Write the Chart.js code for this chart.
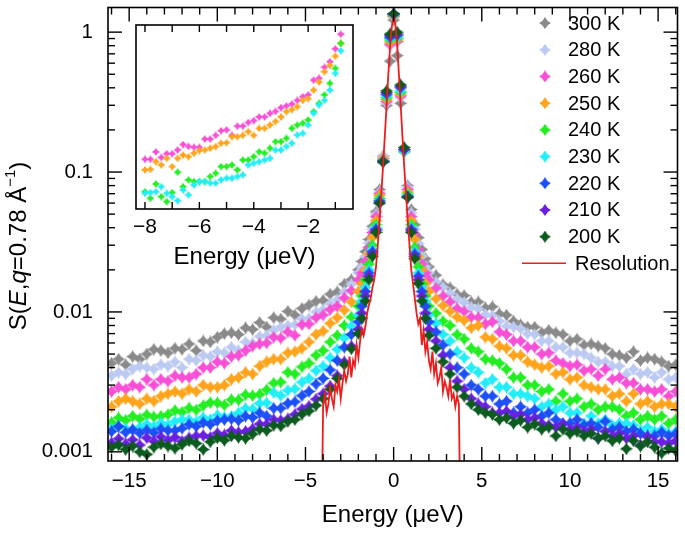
<!DOCTYPE html>
<html><head><meta charset="utf-8">
<script src="https://cdn.jsdelivr.net/npm/chart.js@4.4.1/dist/chart.umd.min.js"></script>
<style>
html,body{margin:0;padding:0;background:#fff;}
#wrap{position:relative;width:685px;height:535px;overflow:hidden;}
#main{position:absolute;left:0;top:0;}
#inset{position:absolute;left:126px;top:15px;}
</style></head>
<body><div id="wrap"><canvas id="main" width="685" height="535"></canvas><canvas id="inset" width="240" height="265"></canvas></div>
<script>
// ---------- DATA ----------
const energy = [-16.0,-15.6,-15.2,-14.8,-14.4,-14.0,-13.6,-13.2,-12.8,-12.4,-12.0,-11.6,-11.2,-10.8,-10.4,-10.0,-9.6,-9.2,-8.8,-8.4,-8.0,-7.6,-7.2,-6.8,-6.4,-6.0,-5.6,-5.2,-4.8,-4.4,-4.0,-3.6,-3.2,-2.8,-2.4,
-2.0,-1.8,-1.6,-1.4,-1.2,-1.0,-0.8,-0.6,-0.4,-0.2,0,0.2,0.4,0.6,0.8,1.0,1.2,1.4,1.6,1.8,2.0,
2.4,2.8,3.2,3.6,4.0,4.4,4.8,5.2,5.6,6.0,6.4,6.8,7.2,7.6,8.0,8.4,8.8,9.2,9.6,10.0,10.4,10.8,11.2,11.6,12.0,12.4,12.8,13.2,13.6,14.0,14.4,14.8,15.2,15.6,16.0];

const s300 = [0.0043,0.0046,0.0042,0.0048,0.0046,0.0050,0.0054,0.0053,0.0051,0.0055,0.0054,0.0059,0.0053,0.0062,0.0061,0.0066,0.0070,0.0071,0.0069,0.0077,0.0075,0.0084,0.0078,0.0091,0.0089,0.0101,0.0095,0.0106,0.0112,0.0119,0.0121,0.0134,0.0139,0.0158,0.0170,
0.020,0.023,0.027,0.033,0.041,0.052,0.075,0.13,0.30,0.62,1.22,0.68,0.31,0.14,0.08,0.054,0.042,0.034,0.028,0.024,0.021,
0.0183,0.0157,0.0149,0.0134,0.0131,0.0118,0.0118,0.0107,0.0109,0.0097,0.0095,0.0086,0.0081,0.0078,0.0078,0.0071,0.0074,0.0071,0.0069,0.0062,0.0064,0.0058,0.0059,0.0057,0.0055,0.0050,0.0049,0.0047,0.0052,0.0045,0.0047,0.0046,0.0044,0.0041,0.0042];

const s280 = [0.0035,0.0037,0.0036,0.0039,0.0041,0.0040,0.0039,0.0042,0.0041,0.0044,0.0040,0.0046,0.0045,0.0049,0.0048,0.0052,0.0051,0.0056,0.0053,0.0061,0.0060,0.0067,0.0068,0.0074,0.0078,0.0080,0.0081,0.0089,0.0090,0.0100,0.0104,0.0114,0.0122,0.0139,0.0158,
0.019,0.021,0.025,0.031,0.039,0.050,0.072,0.13,0.31,0.80,1.28,0.85,0.34,0.14,0.078,0.051,0.039,0.031,0.025,0.021,0.019,
0.0164,0.0150,0.0136,0.0124,0.0117,0.0108,0.0105,0.0096,0.0094,0.0086,0.0079,0.0078,0.0076,0.0070,0.0069,0.0062,0.0062,0.0056,0.0056,0.0051,0.0051,0.0050,0.0047,0.0044,0.0044,0.0041,0.0041,0.0036,0.0039,0.0036,0.0037,0.0034,0.0037,0.0033,0.0034];

const s260 = [0.0027,0.0029,0.0028,0.0030,0.0029,0.0033,0.0030,0.0033,0.0032,0.0035,0.0034,0.0034,0.0036,0.0040,0.0040,0.0044,0.0043,0.0048,0.0049,0.0053,0.0057,0.0059,0.0060,0.0066,0.0065,0.0072,0.0068,0.0081,0.0082,0.0091,0.0095,0.0104,0.0110,0.0126,0.0142,
0.017,0.019,0.023,0.029,0.037,0.048,0.070,0.125,0.32,0.82,1.30,0.86,0.35,0.14,0.075,0.048,0.036,0.028,0.022,0.019,0.017,
0.0148,0.0130,0.0118,0.0106,0.0101,0.0092,0.0091,0.0082,0.0085,0.0072,0.0069,0.0062,0.0062,0.0056,0.0056,0.0050,0.0051,0.0045,0.0043,0.0041,0.0042,0.0038,0.0039,0.0035,0.0039,0.0033,0.0034,0.0031,0.0031,0.0028,0.0028,0.0027,0.0028,0.0025,0.0027];

const s250 = [0.0021,0.0023,0.0024,0.0023,0.0022,0.0024,0.0023,0.0025,0.0026,0.0027,0.0026,0.0028,0.0027,0.0030,0.0029,0.0029,0.0030,0.0033,0.0034,0.0037,0.0036,0.0041,0.0044,0.0046,0.0046,0.0051,0.0052,0.0055,0.0061,0.0069,0.0073,0.0083,0.0091,0.0103,0.0118,
0.014,0.016,0.020,0.026,0.034,0.045,0.068,0.125,0.33,0.85,1.30,0.88,0.36,0.14,0.072,0.045,0.033,0.025,0.020,0.016,0.014,
0.0124,0.0111,0.0101,0.0092,0.0087,0.0077,0.0080,0.0066,0.0064,0.0057,0.0055,0.0049,0.0049,0.0044,0.0042,0.0040,0.0041,0.0036,0.0037,0.0033,0.0034,0.0030,0.0029,0.0028,0.0028,0.0025,0.0026,0.0023,0.0026,0.0022,0.0023,0.0021,0.0022,0.0022,0.0021];

const s240 = [0.00162,0.00175,0.00168,0.00180,0.00172,0.00184,0.00178,0.00180,0.00185,0.00198,0.00192,0.00206,0.00199,0.00214,0.00225,0.00224,0.00216,0.00236,0.00235,0.00256,0.00252,0.00258,0.00278,0.00310,0.00315,0.00370,0.00360,0.00405,0.00430,0.00490,0.00530,0.00610,0.00680,0.00800,0.00920,
0.011,0.013,0.017,0.022,0.030,0.042,0.065,0.12,0.34,0.88,1.32,0.90,0.37,0.14,0.070,0.042,0.029,0.021,0.016,0.013,0.011,
0.0098,0.0086,0.0080,0.0069,0.0064,0.0055,0.0052,0.0046,0.0045,0.0043,0.0039,0.0034,0.0034,0.0030,0.0030,0.0027,0.0028,0.0023,0.0026,0.0023,0.0024,0.0021,0.0022,0.0020,0.0021,0.0021,0.0020,0.0018,0.0019,0.0017,0.0018,0.0017,0.0018,0.0016,0.0017];

const s230 = [0.00146,0.00153,0.00147,0.00145,0.00150,0.00158,0.00152,0.00161,0.00156,0.00165,0.00170,0.00170,0.00164,0.00176,0.00170,0.00183,0.00177,0.00180,0.00190,0.00205,0.00202,0.00222,0.00224,0.00265,0.00252,0.00275,0.00282,0.00315,0.00335,0.00380,0.00410,0.00470,0.00540,0.00650,0.00790,
0.0095,0.012,0.015,0.020,0.028,0.040,0.063,0.12,0.35,0.90,1.33,0.92,0.38,0.14,0.068,0.040,0.027,0.019,0.015,0.012,0.0095,
0.0083,0.0069,0.0062,0.0052,0.0047,0.0040,0.0037,0.0031,0.0033,0.0029,0.0029,0.0026,0.0026,0.0025,0.0024,0.0021,0.0022,0.0020,0.0021,0.0019,0.0019,0.0016,0.0018,0.0016,0.0017,0.00155,0.0016,0.0016,0.00155,0.00142,0.0015,0.0014,0.00145,0.00135,0.0014];

const s220 = [0.00140,0.00152,0.00138,0.00144,0.00136,0.00143,0.00137,0.00146,0.00142,0.00142,0.00147,0.00157,0.00152,0.00162,0.00157,0.00167,0.00170,0.00172,0.00168,0.00180,0.00176,0.00190,0.00180,0.00205,0.00205,0.00222,0.00228,0.00252,0.00270,0.00305,0.00335,0.00385,0.00450,0.00560,0.00690,
0.0085,0.011,0.014,0.019,0.027,0.039,0.062,0.12,0.36,0.92,1.34,0.95,0.40,0.145,0.067,0.039,0.026,0.018,0.014,0.011,0.0085,
0.0072,0.0058,0.0050,0.0040,0.0036,0.0030,0.0028,0.0025,0.0025,0.0022,0.0023,0.0019,0.0021,0.0019,0.0020,0.0018,0.0019,0.0017,0.0016,0.0016,0.0017,0.00155,0.0016,0.0015,0.00165,0.00145,0.0015,0.0014,0.00145,0.00135,0.0013,0.0013,0.00138,0.0013,0.00135];

const s210 = [0.00116,0.00124,0.00114,0.00122,0.00112,0.00126,0.00119,0.00128,0.00121,0.00127,0.00119,0.00126,0.00130,0.00131,0.00127,0.00136,0.00132,0.00142,0.00138,0.00140,0.00146,0.00158,0.00158,0.00170,0.00168,0.00172,0.00185,0.00202,0.00212,0.00238,0.00260,0.00295,0.00350,0.00440,0.00570,
0.0075,0.0098,0.013,0.018,0.026,0.038,0.060,0.118,0.37,0.95,1.35,0.97,0.41,0.145,0.066,0.038,0.025,0.017,0.013,0.0098,0.0075,
0.0062,0.0049,0.0040,0.0032,0.0028,0.0024,0.0022,0.0021,0.0019,0.0019,0.00195,0.0018,0.00185,0.0017,0.00175,0.0016,0.00155,0.0015,0.00158,0.00145,0.0015,0.0014,0.00145,0.00125,0.0014,0.0013,0.00135,0.00125,0.0013,0.00112,0.00128,0.00118,0.00118,0.00115,0.0012];

const s200 = [0.00108,0.00112,0.00104,0.00110,0.00100,0.00096,0.00108,0.00114,0.00110,0.00106,0.00113,0.00120,0.00115,0.00104,0.00118,0.00126,0.00121,0.00130,0.00127,0.00125,0.00134,0.00145,0.00142,0.00155,0.00153,0.00165,0.00170,0.00186,0.00196,0.00215,0.00240,0.00280,0.00335,0.00420,0.00545,
0.0070,0.0090,0.012,0.017,0.025,0.037,0.060,0.118,0.38,0.97,1.36,1.00,0.42,0.15,0.066,0.037,0.024,0.016,0.012,0.009,0.0068,
0.0055,0.0044,0.0036,0.0029,0.0025,0.0022,0.0020,0.0019,0.00185,0.0017,0.00175,0.0016,0.00168,0.0015,0.00158,0.00145,0.0015,0.0013,0.00145,0.00135,0.0014,0.0013,0.00135,0.00125,0.0013,0.0012,0.00125,0.00105,0.0012,0.0011,0.00118,0.00108,0.00098,0.00106,0.00102];

const resEnergy = [-4.1,-4.0,-3.9,-3.8,-3.7,-3.6,-3.5,-3.4,-3.3,-3.2,-3.1,-3.0,-2.9,-2.8,-2.7,-2.6,-2.5,-2.4,-2.3,-2.2,-2.1,-2.0,-1.9,-1.8,-1.7,-1.6,-1.5,-1.4,-1.3,-1.2,-1.1,-1.0,-0.9,-0.8,-0.7,-0.6,-0.5,-0.4,-0.3,-0.2,-0.1,0,
0.1,0.2,0.3,0.4,0.5,0.6,0.7,0.8,0.9,1.0,1.1,1.2,1.3,1.4,1.5,1.6,1.7,1.8,1.9,2.0,2.1,2.2,2.3,2.4,2.5,2.6,2.7,2.8,2.9,3.0,3.1,3.2,3.3,3.4,3.5,3.6,3.7,3.8];
const resolution = [0.0002,0.0021,0.0026,0.0019,0.0022,0.0029,0.0024,0.0021,0.0030,0.0027,0.0033,0.0024,0.0031,0.0038,0.0032,0.0036,0.0048,0.0034,0.0045,0.0041,0.0058,0.0047,0.0062,0.0076,0.0068,0.0079,0.0098,0.0112,0.0125,0.0150,0.0170,0.021,0.030,0.045,0.070,0.11,0.18,0.30,0.50,0.80,1.10,1.30,
1.12,0.82,0.50,0.30,0.18,0.11,0.070,0.045,0.030,0.020,0.016,0.0125,0.0098,0.0082,0.0090,0.0058,0.0074,0.0052,0.0061,0.0045,0.0039,0.0052,0.0036,0.0043,0.0031,0.0034,0.0040,0.0027,0.0032,0.0029,0.0025,0.0033,0.0024,0.0026,0.0021,0.0025,0.0022,0.0002];

const seriesLabels = ['300 K','280 K','260 K','250 K','240 K','230 K','220 K','210 K','200 K'];
const resolutionLabel = 'Resolution';
const xTickValues = [-15,-10,-5,0,5,10,15];
const yTickValues = [0.001,0.01,0.1,1];

// inset (arbitrary linear units)
const insetEnergy = [-8.0,-7.8,-7.6,-7.4,-7.2,-7.0,-6.8,-6.6,-6.4,-6.2,-6.0,-5.8,-5.6,-5.4,-5.2,-5.0,-4.8,-4.6,-4.4,-4.2,-4.0,-3.8,-3.6,-3.4,-3.2,-3.0,-2.8,-2.6,-2.4,-2.2,-2.0,-1.8,-1.6,-1.4,-1.2,-1.0,-0.8];
const inset260 = [0.27,0.27,0.31,0.28,0.30,0.30,0.32,0.35,0.34,0.335,0.335,0.38,0.38,0.40,0.425,0.43,0.40,0.45,0.45,0.47,0.48,0.50,0.50,0.52,0.53,0.55,0.56,0.57,0.59,0.61,0.62,0.70,0.71,0.77,0.80,0.87,0.95];
const inset250 = [0.212,0.215,0.257,0.239,0.275,0.23,0.275,0.293,0.284,0.303,0.317,0.32,0.33,0.339,0.357,0.36,0.393,0.393,0.40,0.42,0.40,0.438,0.438,0.456,0.475,0.50,0.529,0.54,0.556,0.59,0.60,0.646,0.69,0.746,0.78,0.83,0.90];
const inset240 = [0.094,0.058,0.136,0.067,0.040,0.089,0.20,0.121,0.158,0.149,0.149,0.149,0.176,0.194,0.230,0.230,0.239,0.212,0.266,0.266,0.284,0.311,0.303,0.33,0.366,0.366,0.384,0.438,0.456,0.466,0.484,0.529,0.574,0.62,0.683,0.764,0.90];
const inset230 = [0.085,0.089,0.094,0.121,0.085,0.067,0.045,0.103,0.076,0.13,0.149,0.149,0.14,0.14,0.158,0.167,0.167,0.176,0.185,0.239,0.248,0.257,0.266,0.275,0.32,0.32,0.339,0.357,0.402,0.411,0.456,0.52,0.565,0.59,0.646,0.737,0.86];
const insetTickValues = [-8,-6,-4,-2];

// ---------- STYLE ----------
const FONT = "'Liberation Sans', Arial, Helvetica, sans-serif";
const colors = ['#8a8a8a','#bccaf2','#f74fd6','#ffa41c','#22ee22','#22eef8','#1c4ff5','#6a1fe0','#0b5a1e'];
const resColor = '#ee1c1c';

function marker(color, size) {
  const c = document.createElement('canvas');
  c.width = size; c.height = size;
  const g = c.getContext('2d');
  const r = size / 2, k = 0.3 * r;
  g.fillStyle = color;
  g.beginPath();
  g.moveTo(r, 0);
  g.quadraticCurveTo(r + k, r - k, size, r);
  g.quadraticCurveTo(r + k, r + k, r, size);
  g.quadraticCurveTo(r - k, r + k, 0, r);
  g.quadraticCurveTo(r - k, r - k, r, 0);
  g.fill();
  return c;
}
const minus = v => (v < 0 ? '\u2212' + Math.abs(v) : String(v));

const allSeries = [s300, s280, s260, s250, s240, s230, s220, s210, s200];
const mainMarkers = colors.map(c => marker(c, 13));
const legendMarkers = colors.map(c => marker(c, 12));

const datasets = allSeries.map((vals, i) => ({
  label: seriesLabels[i],
  data: energy.map((e, j) => ({ x: e, y: vals[j] })),
  pointStyle: mainMarkers[i],
  pointRadius: 6.5,
  showLine: false,
  order: 9 - i,
  clip: 0
}));
datasets.push({
  label: resolutionLabel,
  data: resEnergy.map((e, j) => ({ x: e, y: resolution[j] })),
  showLine: true,
  borderColor: resColor,
  borderWidth: 1.8,
  pointRadius: 0,
  tension: 0,
  order: 0,
  clip: 0
});

function line(ctx, x1, y1, x2, y2) { ctx.beginPath(); ctx.moveTo(x1, y1); ctx.lineTo(x2, y2); ctx.stroke(); }

const framePlugin = {
  id: 'frame',
  afterDatasetsDraw(chart) {
    const { ctx, chartArea: a, scales: { x, y } } = chart;
    ctx.save();
    ctx.strokeStyle = '#000';
    ctx.lineWidth = 1.6;
    ctx.strokeRect(a.left, a.top, a.right - a.left, a.bottom - a.top);
    ctx.lineWidth = 1.4;
    for (let v = -16; v <= 16; v++) {
      const px = x.getPixelForValue(v);
      if (px < a.left || px > a.right) continue;
      const L = (v % 5 === 0) ? 14 : 7;
      line(ctx, px, a.bottom, px, a.bottom - L);
      line(ctx, px, a.top, px, a.top + L);
    }
    for (const d of yTickValues) {
      for (let k = 1; k <= 9; k++) {
        const v = d * k;
        const py = y.getPixelForValue(v);
        if (py < a.top || py > a.bottom) continue;
        const L = k === 1 ? 14 : 7;
        line(ctx, a.left, py, a.left + L, py);
        line(ctx, a.right, py, a.right - L, py);
      }
    }
    ctx.restore();
  },
  afterDraw(chart) {
    const { ctx } = chart;
    // y-axis title with italic / superscript parts
    const size = 24;
    const parts = [
      ['S(', 'normal', 0], ['E', 'italic', 0], [',', 'normal', 0], ['q', 'italic', 0],
      ['=0.78 \u00C5', 'normal', 0], ['\u22121', 'sup', 0], [')', 'normal', 0]
    ];
    ctx.save();
    ctx.fillStyle = '#000';
    const fontFor = s => s === 'italic' ? `italic ${size}px ${FONT}` : s === 'sup' ? `${Math.round(size * 0.62)}px ${FONT}` : `${size}px ${FONT}`;
    let total = 0;
    for (const p of parts) { ctx.font = fontFor(p[1]); p[2] = ctx.measureText(p[0]).width; total += p[2]; }
    ctx.translate(19, 246);
    ctx.rotate(-Math.PI / 2);
    ctx.textBaseline = 'middle';
    ctx.textAlign = 'left';
    let cx = -total / 2;
    for (const p of parts) {
      ctx.font = fontFor(p[1]);
      ctx.fillText(p[0], cx, p[1] === 'sup' ? -size * 0.34 : 0);
      cx += p[2];
    }
    ctx.restore();

    // legend
    ctx.save();
    ctx.font = `20px ${FONT}`;
    ctx.fillStyle = '#000';
    ctx.textBaseline = 'middle';
    for (let i = 0; i < seriesLabels.length; i++) {
      const yy = 23 + i * 26.7;
      ctx.drawImage(legendMarkers[i], 545 - 6, yy - 6);
      ctx.fillText(seriesLabels[i], 568, yy + 1);
    }
    const ry = 23 + 9 * 26.7;
    ctx.strokeStyle = resColor; ctx.lineWidth = 1.6;
    line(ctx, 522, ry, 566, ry);
    ctx.fillText(resolutionLabel, 575, ry + 1);
    ctx.restore();
  }
};

new Chart(document.getElementById('main'), {
  type: 'scatter',
  data: { datasets },
  options: {
    responsive: false, animation: false, devicePixelRatio: 1,
    layout: { padding: { top: 2, right: 3, left: 0, bottom: 0 } },
    plugins: { legend: { display: false }, tooltip: { enabled: false } },
    scales: {
      x: {
        type: 'linear', min: -16.2, max: 16.1,
        grid: { display: false, drawTicks: false }, border: { display: false },
        afterBuildTicks: s => { s.ticks = xTickValues.map(v => ({ value: v })); },
        afterFit: s => { s.height = 74; s.paddingLeft = 0; s.paddingRight = 0; },
        ticks: { color: '#000', font: { family: FONT, size: 20.5 }, padding: 8, maxRotation: 0, autoSkip: false, callback: v => minus(v) },
        title: { display: true, text: 'Energy (\u03BCeV)', color: '#000', font: { family: FONT, size: 24 }, padding: { top: 0, bottom: 5 } }
      },
      y: {
        type: 'logarithmic', min: 0.00086, max: 1.5,
        grid: { display: false, drawTicks: false }, border: { display: false },
        afterBuildTicks: s => { s.ticks = yTickValues.map(v => ({ value: v, major: true })); },
        afterFit: s => { s.width = 108; s.paddingTop = 0; s.paddingBottom = 0; },
        ticks: { color: '#000', font: { family: FONT, size: 20.5 }, padding: 15, autoSkip: false, callback: v => String(v) }
      }
    }
  },
  plugins: [framePlugin]
});

// ---------- INSET ----------
const insetColorsIdx = [2, 3, 4, 5];
const insetSeries = [inset260, inset250, inset240, inset230];
const insetDatasets = insetSeries.map((vals, i) => ({
  data: insetEnergy.map((e, j) => ({ x: e, y: vals[j] })),
  pointStyle: marker(colors[insetColorsIdx[i]], 8),
  pointRadius: 4,
  showLine: false,
  order: 4 - i,
  clip: 0
}));

const insetFrame = {
  id: 'insetFrame',
  afterDatasetsDraw(chart) {
    const { ctx, chartArea: a, scales: { x } } = chart;
    ctx.save();
    ctx.strokeStyle = '#000';
    ctx.lineWidth = 1.6;
    ctx.strokeRect(a.left, a.top, a.right - a.left, a.bottom - a.top);
    ctx.lineWidth = 1.4;
    for (let v = -8; v <= -1; v++) {
      const px = x.getPixelForValue(v);
      line(ctx, px, a.bottom, px, a.bottom - 7);
      line(ctx, px, a.top, px, a.top + 7);
    }
    ctx.restore();
  }
};

new Chart(document.getElementById('inset'), {
  type: 'scatter',
  data: { datasets: insetDatasets },
  options: {
    responsive: false, animation: false, devicePixelRatio: 1,
    layout: { padding: { left: 10, right: 13, top: 10, bottom: 0 } },
    plugins: { legend: { display: false }, tooltip: { enabled: false } },
    scales: {
      x: {
        type: 'linear', min: -8.33, max: -0.35,
        grid: { display: false, drawTicks: false }, border: { display: false },
        afterBuildTicks: s => { s.ticks = insetTickValues.map(v => ({ value: v })); },
        afterFit: s => { s.height = 71; s.paddingLeft = 0; s.paddingRight = 0; },
        ticks: { color: '#000', font: { family: FONT, size: 21 }, padding: 6, maxRotation: 0, autoSkip: false, callback: v => minus(v) },
        title: { display: true, text: 'Energy (\u03BCeV)', color: '#000', font: { family: FONT, size: 24 }, padding: { top: 0, bottom: 8 } }
      },
      y: { display: false, min: 0, max: 1 }
    }
  },
  plugins: [insetFrame]
});
</script>
</body></html>
